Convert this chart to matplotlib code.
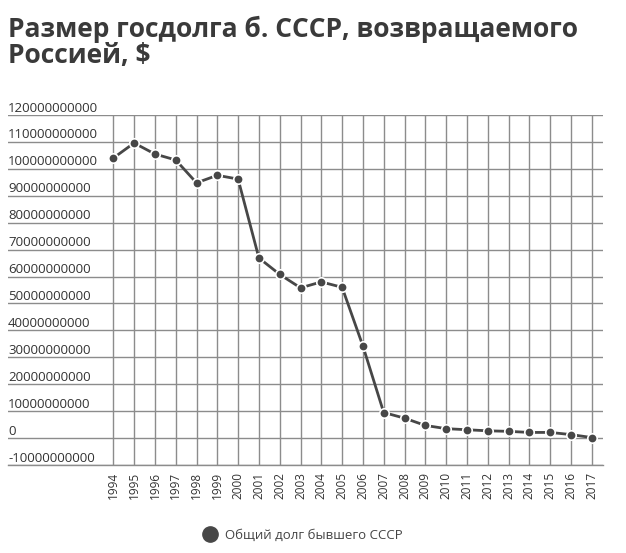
import matplotlib
matplotlib.use("Agg")
import matplotlib.pyplot as plt
from matplotlib.lines import Line2D
import matplotlib.transforms as mtransforms

years = [str(y) for y in range(1994, 2018)]
debt = [104.0e9, 109.6e9, 105.5e9, 103.3e9, 94.8e9, 97.6e9, 96.2e9, 66.9e9,
        60.8e9, 55.8e9, 58.0e9, 56.0e9, 34.2e9, 9.5e9, 7.4e9, 4.7e9, 3.5e9,
        3.1e9, 2.7e9, 2.5e9, 2.1e9, 2.1e9, 1.3e9, 0.2e9]
yticks = [-10e9, 0, 10e9, 20e9, 30e9, 40e9, 50e9, 60e9, 70e9, 80e9, 90e9,
          100e9, 110e9, 120e9]
title_lines = ["Размер госдолга б. СССР, возвращаемого", "Россией, $"]
series_name = "Общий долг бывшего СССР"

W, H = 626, 553
fig = plt.figure(figsize=(W / 100, H / 100), dpi=100)
plt.rcParams['font.family'] = ['Open Sans', 'DejaVu Sans']

left_px, right_px, top_px, bot_px = 8, 602.7, 115, 465
ax = fig.add_axes([left_px / W, 1 - bot_px / H, (right_px - left_px) / W,
                   (bot_px - top_px) / H])

line_color = '#474747'
grid_color = '#8c8c8c'
text_color = '#333333'

x = list(range(len(years)))
ax.plot(x, debt, color=line_color, lw=2, marker='o', markersize=6.8,
        markerfacecolor=line_color, markeredgecolor='white',
        markeredgewidth=1.2, zorder=3)

# x range: 1994 at px 113.3, step 20.8 px
step = 20.8
x0 = 113.3
ax.set_xlim((left_px - x0) / step, (right_px - x0) / step)
ax.set_ylim(-10e9, 120e9)

ax.set_xticks(x)
ax.set_xticklabels(years, rotation=90, fontsize=8.5, color=text_color)
ax.tick_params(axis='x', length=0, pad=5)
ax.set_yticks(yticks)
ax.set_yticklabels([])
ax.tick_params(axis='y', length=0)

ax.grid(True, color=grid_color, lw=1)
ax.set_axisbelow(True)
for s in ['top', 'right', 'left']:
    ax.spines[s].set_visible(False)
ax.spines['bottom'].set_color(grid_color)
ax.spines['bottom'].set_linewidth(1)

trans = mtransforms.blended_transform_factory(ax.transAxes, ax.transData)
off = mtransforms.ScaledTranslation(0, 2.5 / 72, fig.dpi_scale_trans)
for v in yticks:
    ax.text(0, v, f"{int(v)}", transform=trans + off, ha='left',
            va='baseline', fontsize=9.5, color=text_color)

fig.text(left_px / W, 1 - 37 / H, title_lines[0], fontsize=19,
         fontweight='bold', color='#3a3a3a', va='baseline', ha='left')
fig.text(left_px / W, 1 - 63 / H, title_lines[1], fontsize=19,
         fontweight='bold', color='#3a3a3a', va='baseline', ha='left')

handle = Line2D([], [], color=line_color, marker='o', linestyle='none',
                markersize=11)
fig.legend([handle], [series_name], loc='center',
           bbox_to_anchor=(303 / W, 1 - 535 / H), frameon=False,
           handlelength=1.0, handletextpad=0.6,
           prop={'size': 9.5}, labelcolor='#444444')

fig.savefig('out.png', dpi=100)
